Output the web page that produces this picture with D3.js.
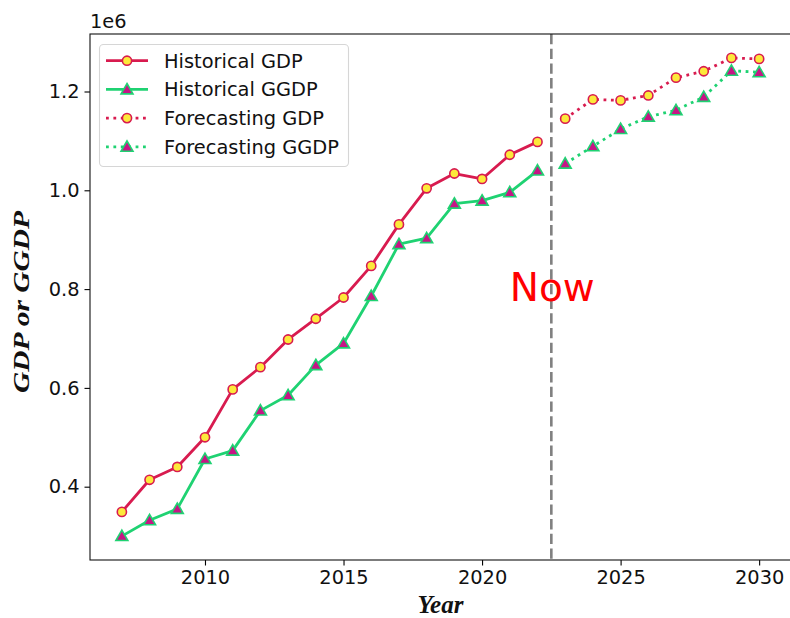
<!DOCTYPE html>
<html>
<head>
<meta charset="utf-8">
<script src="https://cdn.jsdelivr.net/npm/d3@7"></script>
<style>
  html, body { margin: 0; padding: 0; background: #fff; }
  svg { display: block; }
  text { font-family: "DejaVu Sans", sans-serif; }
  text.serif-title { font-family: "Liberation Serif", "Times New Roman", serif; font-weight: bold; font-style: italic; }
</style>
</head>
<body>
<script>
// ---- data ----
const yearsHist = [2007, 2008, 2009, 2010, 2011, 2012, 2013, 2014, 2015, 2016, 2017, 2018, 2019, 2020, 2021, 2022];
const gdpHist = [349000, 414000, 440000, 500000, 597000, 642000, 698000, 740000, 783000, 847000, 931000, 1004000, 1034000, 1023000, 1072000, 1098000];
const ggdpHist = [300000, 332000, 355000, 456000, 473000, 554000, 585000, 646000, 690000, 786000, 891000, 903000, 973000, 979000, 996000, 1040000];
const yearsFc = [2023, 2024, 2025, 2026, 2027, 2028, 2029, 2030];
const gdpFc = [1145000, 1184000, 1182000, 1192000, 1228000, 1241000, 1268000, 1266000];
const ggdpFc = [1054000, 1089000, 1124000, 1149000, 1162000, 1189000, 1242000, 1239000];
const xTicks = [2010, 2015, 2020, 2025, 2030];
const yTicks = [400000, 600000, 800000, 1000000, 1200000];
const nowYear = 2022.5;
const seriesNames = ["Historical GDP", "Historical GGDP", "Forecasting GDP", "Forecasting GGDP"];

// ---- layout ----
const W = 790, H = 618;
const M = { left: 90, top: 34, right: 791, bottom: 560 };

const svg = d3.select("body").append("svg").attr("width", W).attr("height", H);

// 5% padding around the data range on both axes
const allYears = yearsHist.concat(yearsFc);
const allVals = gdpHist.concat(ggdpHist, gdpFc, ggdpFc);
const [x0, x1] = d3.extent(allYears);
const [v0, v1] = d3.extent(allVals);
const px = (x1 - x0) * 0.05, pv = (v1 - v0) * 0.05;

const x = d3.scaleLinear().domain([x0 - px, x1 + px]).range([M.left, M.right]);
const y = d3.scaleLinear().domain([v0 - pv, v1 + pv]).range([M.bottom, M.top]);

const C = {
  gdp: "#d81b4f",
  gdpFace: "#fde93a",
  ggdp: "#1fd272",
  ggdpFace: "#c71585"
};

const plot = svg.append("g");

// ---- vertical "now" marker ----
plot.append("line")
  .attr("x1", x(nowYear)).attr("x2", x(nowYear))
  .attr("y1", M.top).attr("y2", M.bottom)
  .attr("stroke", "#808080").attr("stroke-width", 2.6)
  .attr("stroke-dasharray", "10.3,4.4");

const line = d3.line().x(d => x(d[0])).y(d => y(d[1]));
const zip = (a, b) => a.map((v, i) => [v, b[i]]);

const tri = d3.symbol().type(d3.symbolTriangle).size(62);

function drawSeries(pts, color, dashed) {
  plot.append("path")
    .attr("d", line(pts))
    .attr("fill", "none")
    .attr("stroke", color)
    .attr("stroke-width", 2.8)
    .attr("stroke-linejoin", "round")
    .attr("stroke-dasharray", dashed ? "2.8,4.6" : null);
}
function drawCircles(pts) {
  plot.selectAll(null).data(pts).enter().append("circle")
    .attr("cx", d => x(d[0])).attr("cy", d => y(d[1]))
    .attr("r", 4.6)
    .attr("fill", C.gdpFace).attr("stroke", C.gdp).attr("stroke-width", 1.6);
}
function drawTriangles(pts) {
  plot.selectAll(null).data(pts).enter().append("path")
    .attr("d", tri)
    .attr("transform", d => `translate(${x(d[0])},${y(d[1]) + 1})`)
    .attr("fill", C.ggdpFace).attr("stroke", C.ggdp).attr("stroke-width", 1.6);
}

const gh = zip(yearsHist, gdpHist), ggh = zip(yearsHist, ggdpHist);
const gf = zip(yearsFc, gdpFc), ggf = zip(yearsFc, ggdpFc);

drawSeries(gh, C.gdp, false); drawCircles(gh);
drawSeries(ggh, C.ggdp, false); drawTriangles(ggh);
drawSeries(gf, C.gdp, true); drawCircles(gf);
drawSeries(ggf, C.ggdp, true); drawTriangles(ggf);

// ---- "Now" label ----
svg.append("text")
  .attr("x", x(2021)).attr("y", y(775000))
  .attr("fill", "#ff0000")
  .attr("font-size", 39)
  .text("Now");

// ---- axes ----
const fmt = d => (d / 1e6).toFixed(1);
const xAxis = svg.append("g").attr("transform", `translate(0,${M.bottom})`)
  .call(d3.axisBottom(x).tickValues(xTicks).tickFormat(d3.format("d")).tickSizeOuter(0).tickSize(5.5).tickPadding(5));
const yAxis = svg.append("g").attr("transform", `translate(${M.left},0)`)
  .call(d3.axisLeft(y).tickValues(yTicks).tickFormat(fmt).tickSizeOuter(0).tickSize(5.5).tickPadding(5));
[xAxis, yAxis].forEach(g => {
  g.select(".domain").remove();
  g.selectAll(".tick line").attr("stroke", "#000").attr("stroke-width", 1.1);
  g.selectAll(".tick text").attr("fill", "#111").attr("font-size", 19.4);
});

// frame
svg.append("rect")
  .attr("x", M.left).attr("y", M.top)
  .attr("width", M.right - M.left).attr("height", M.bottom - M.top)
  .attr("fill", "none").attr("stroke", "#111").attr("stroke-width", 1.1);

// offset multiplier
svg.append("text").attr("x", M.left).attr("y", 28)
  .attr("font-size", 19.4).attr("fill", "#111").text("1e6");

// axis titles
svg.append("text")
  .attr("class", "serif-title")
  .attr("x", (M.left + M.right) / 2).attr("y", 613)
  .attr("text-anchor", "middle")
  .attr("font-size", 25).attr("fill", "#111")
  .text("Year");

svg.append("text")
  .attr("class", "serif-title")
  .attr("transform", `translate(29,302) rotate(-90)`)
  .attr("text-anchor", "middle")
  .attr("font-size", 23).attr("fill", "#111")
  .attr("textLength", 182).attr("lengthAdjust", "spacingAndGlyphs")
  .text("GDP or GGDP");

// ---- legend ----
const lg = svg.append("g");
lg.append("rect")
  .attr("x", 99.5).attr("y", 44.5).attr("width", 249).attr("height", 122)
  .attr("rx", 4).attr("fill", "#fff").attr("fill-opacity", 0.8)
  .attr("stroke", "#d6d6d6").attr("stroke-width", 1.1);

const legendItems = [
  { name: seriesNames[0], color: C.gdp, dashed: false, marker: "circle" },
  { name: seriesNames[1], color: C.ggdp, dashed: false, marker: "triangle" },
  { name: seriesNames[2], color: C.gdp, dashed: true, marker: "circle" },
  { name: seriesNames[3], color: C.ggdp, dashed: true, marker: "triangle" }
];
legendItems.forEach((it, i) => {
  const cy = 60.7 + i * 28.7;
  lg.append("line").attr("x1", 106).attr("x2", 148).attr("y1", cy).attr("y2", cy)
    .attr("stroke", it.color).attr("stroke-width", 2.8)
    .attr("stroke-dasharray", it.dashed ? "2.8,4.6" : null);
  if (it.marker === "circle") {
    lg.append("circle").attr("cx", 127).attr("cy", cy).attr("r", 4.6)
      .attr("fill", C.gdpFace).attr("stroke", C.gdp).attr("stroke-width", 1.6);
  } else {
    lg.append("path").attr("d", tri).attr("transform", `translate(127,${cy + 1})`)
      .attr("fill", C.ggdpFace).attr("stroke", C.ggdp).attr("stroke-width", 1.6);
  }
  lg.append("text").attr("x", 164).attr("y", cy + 7)
    .attr("font-size", 19.4).attr("fill", "#111").text(it.name);
});
</script>
</body>
</html>
